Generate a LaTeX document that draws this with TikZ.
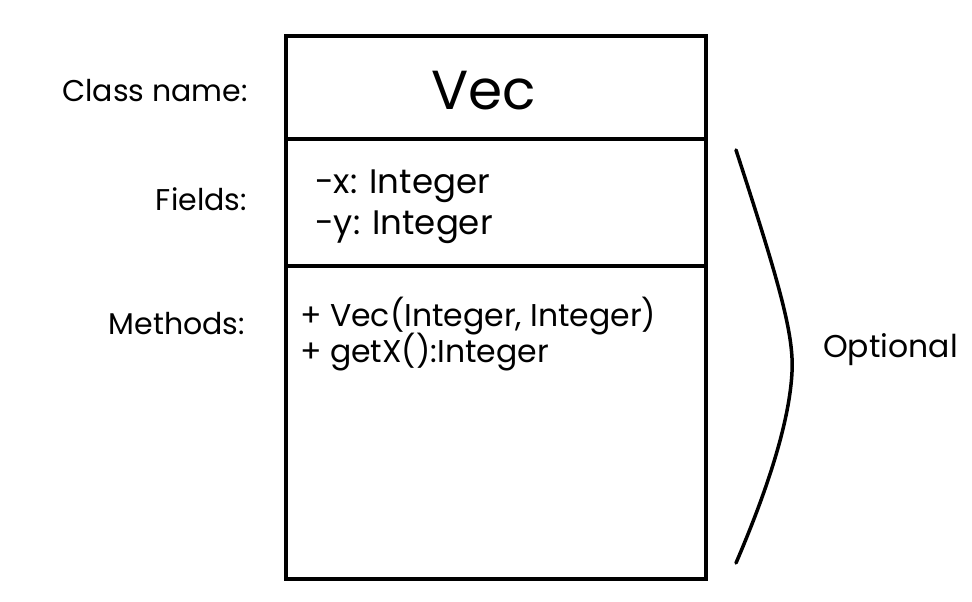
\documentclass[tikz,border=0pt]{standalone}
\usepackage{fontspec}
\setmainfont{Poppins}
\begin{document}
\begin{tikzpicture}[x=1pt,y=-1pt,
  boxline/.style={draw=black,line width=4.8pt},
  lbl/.style={anchor=base east,inner sep=0pt,font=\fontsize{30}{36}\selectfont},
  fieldtxt/.style={anchor=base west,inner sep=0pt,font=\fontsize{34}{40}\selectfont},
  txt/.style={anchor=base west,inner sep=0pt,font=\fontsize{31.5}{38}\selectfont},
  bigtxt/.style={anchor=base,inner sep=0pt,font=\fontsize{55}{66}\selectfont}]
\useasboundingbox[fill=white] (0,0) rectangle (972,602);
\coordinate (tl) at (286,36);
\coordinate (br) at (706,579);
\coordinate (d1l) at (286,139);
\coordinate (d1r) at (706,139);
\coordinate (d2l) at (286,266);
\coordinate (d2r) at (706,266);
\draw[boxline] (tl) rectangle (br);
\draw[boxline] (d1l) -- (d1r);
\draw[boxline] (d2l) -- (d2r);
\node[bigtxt] (vec) at (484,110) {Vec};
\node[lbl] (cn) at (248,102) {Class name:};
\node[lbl] (fl) at (247,210) {Fields:};
\node[lbl] (me) at (245,334) {Methods:};
\node[fieldtxt] (fx) at (315,193) {-x: Integer};
\node[fieldtxt] (fy) at (315,234) {-y: Integer};
\node[txt] (m1) at (300,326) {+ Vec(Integer, Integer)};
\node[txt] (m2) at (300,362) {+ getX():Integer};
\node[txt] (opt) at (823,357) {Optional};
\coordinate (c1) at (736,150);
\coordinate (c2) at (736,563);
\draw[line width=3.5pt,line cap=round] (c1) .. controls (780,285) and (794,335) .. (792,372) .. controls (790,412) and (775,472) .. (c2);
\end{tikzpicture}
\end{document}
